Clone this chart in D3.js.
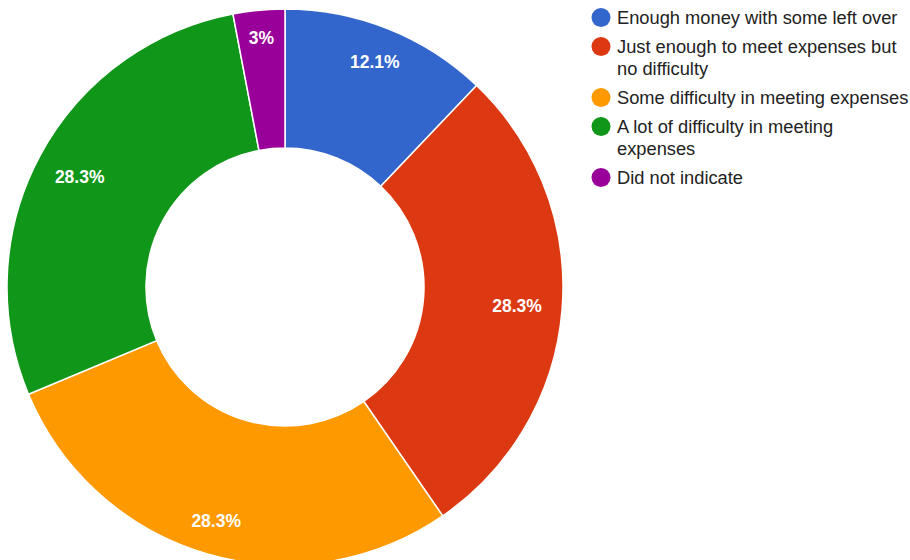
<!DOCTYPE html>
<html>
<head>
<meta charset="utf-8">
<script src="https://cdn.jsdelivr.net/npm/d3@7"></script>
<style>
  html, body { margin: 0; padding: 0; background: #ffffff; overflow: hidden; }
  svg { display: block; }
</style>
</head>
<body>
<svg id="chart" width="910" height="560"></svg>
<script>
// Survey answers: how households manage their expenses (share of respondents, %)
const categories = [
  "Enough money with some left over",
  "Just enough to meet expenses but no difficulty",
  "Some difficulty in meeting expenses",
  "A lot of difficulty in meeting expenses",
  "Did not indicate"
];
const shares = [12.1, 28.3, 28.3, 28.3, 3];
const sliceLabels = ["12.1%", "28.3%", "28.3%", "28.3%", "3%"];
const legendLines = [
  ["Enough money with some left over"],
  ["Just enough to meet expenses but", "no difficulty"],
  ["Some difficulty in meeting expenses"],
  ["A lot of difficulty in meeting", "expenses"],
  ["Did not indicate"]
];
const palette = ["#3366cc", "#dc3912", "#ff9900", "#109618", "#990099"];

const svg = d3.select("#chart");
const font = "'Liberation Sans', Arial, sans-serif";

const cx = 285, cy = 287;
const outerR = 278, innerR = 139;

const color = d3.scaleOrdinal().domain(categories).range(palette);

const pie = d3.pie().sort(null).value(d => d.value);
const arcs = pie(categories.map((c, i) => ({ name: c, value: shares[i], label: sliceLabels[i] })));
const arc = d3.arc().innerRadius(innerR).outerRadius(outerR);

const g = svg.append("g").attr("transform", `translate(${cx},${cy})`);

g.selectAll("path.slice")
  .data(arcs)
  .join("path")
  .attr("class", "slice")
  .attr("d", arc)
  .attr("fill", d => color(d.data.name))
  .attr("stroke", "#ffffff")
  .attr("stroke-width", 1.5);

// Slice labels: pushed outward along the bisector until the text box
// sits a fixed padding inside the outer edge.
const labelSize = 17.5;
const pad = 20;
const labels = g.selectAll("text.val")
  .data(arcs)
  .join("text")
  .attr("class", "val")
  .attr("font-family", font)
  .attr("font-size", labelSize)
  .attr("font-weight", "bold")
  .attr("fill", "#ffffff")
  .attr("text-anchor", "middle")
  .text(d => d.data.label);

labels.each(function(d) {
  const w = this.getComputedTextLength();
  const h = labelSize * 0.72;
  const a = (d.startAngle + d.endAngle) / 2;
  const s = Math.abs(Math.sin(a)), c = Math.abs(Math.cos(a));
  const T = outerR - pad;
  const B = s * w + c * h;
  const C = (w * w + h * h) / 4 - T * T;
  const r = (-B + Math.sqrt(B * B - 4 * C)) / 2;
  const x = r * Math.sin(a), y = -r * Math.cos(a);
  d3.select(this).attr("x", x).attr("y", y + h / 2);
});

// Legend
const legend = svg.append("g").attr("class", "legend");
const legendX = 601, textX = 617;
const lineStep = 22, itemGap = 7;
let yPos = 17.5;
categories.forEach((c, i) => {
  const item = legend.append("g");
  item.append("circle")
    .attr("cx", legendX)
    .attr("cy", yPos)
    .attr("r", 9.5)
    .attr("fill", color(c));
  legendLines[i].forEach((line, j) => {
    item.append("text")
      .attr("x", textX)
      .attr("y", yPos + 6 + j * lineStep)
      .attr("font-family", font)
      .attr("font-size", 18.3)
      .attr("fill", "#222222")
      .text(line);
  });
  yPos += legendLines[i].length * lineStep + itemGap;
});
</script>
</body>
</html>
